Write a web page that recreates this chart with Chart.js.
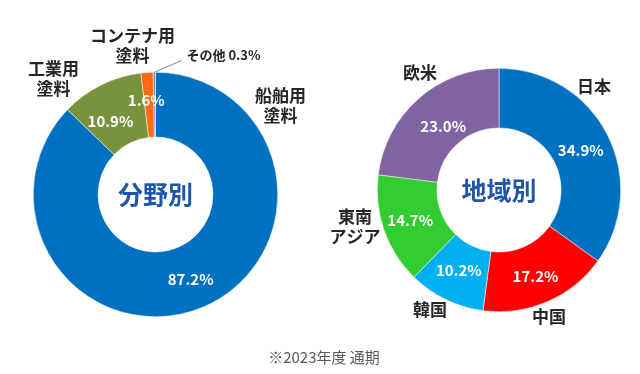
<!DOCTYPE html>
<html lang="ja">
<head>
<meta charset="utf-8">
<script src="https://cdn.jsdelivr.net/npm/chart.js@4/dist/chart.umd.min.js"></script>
<style>
  html, body { margin: 0; padding: 0; background: #fff; }
  #wrap { position: relative; width: 640px; height: 374px; overflow: hidden; }
  .cv { position: absolute; top: 0; width: 320px; height: 374px; }
  #note {
    position: absolute; left: 0; width: 648px; top: 346px; text-align: center;
    font: 15px "Noto Sans CJK JP", "Noto Sans", sans-serif; color: #595959;
  }
</style>
</head>
<body>
<div id="wrap">
  <div class="cv" style="left:0"><canvas id="fieldChart" width="320" height="374"></canvas></div>
  <div class="cv" style="left:320px"><canvas id="regionChart" width="320" height="374"></canvas></div>
  <div id="note">※2023年度 通期</div>
</div>
<script>
  // ---------- Data ----------
  const fieldLabels = [["船舶用", "塗料"], ["工業用", "塗料"], ["コンテナ用", "塗料"], ["その他 0.3%"]];
  const fieldValues = [87.2, 10.9, 1.6, 0.3];
  const fieldColors = ["#0070C0", "#77933C", "#FF6A13", "#8A7CC4"];

  const regionLabels = [["日本"], ["中国"], ["韓国"], ["東南", "アジア"], ["欧米"]];
  const regionValues = [34.9, 17.2, 10.2, 14.7, 23.0];
  const regionColors = ["#0070C0", "#FF0000", "#00B0F0", "#33CC33", "#8064A2"];

  const JP = '"Noto Sans CJK JP", "Noto Sans", sans-serif';

  // ---------- Labels plugin ----------
  // cfg.title : centre text, cfg.labelPos : [dx, dy] of each outside label from centre
  // cfg.pctShift : small nudges of the inside % labels
  const donutLabels = {
    id: "donutLabels",
    afterDraw(chart, args, cfg) {
      const { ctx } = chart;
      const meta = chart.getDatasetMeta(0);
      const ds = chart.data.datasets[0];
      const cx = meta.data[0].x, cy = meta.data[0].y;
      ctx.save();
      ctx.textAlign = "center";
      ctx.textBaseline = "middle";

      // centre title
      ctx.fillStyle = "#1F56A8";
      ctx.font = "bold 25px " + JP;
      ctx.fillText(cfg.title, cx, cy);

      meta.data.forEach((arc, i) => {
        // percent inside the ring
        if (!cfg.skipPct || !cfg.skipPct.includes(i)) {
          const p = arc.tooltipPosition();
          const sh = (cfg.pctShift && cfg.pctShift[i]) || [0, 0];
          ctx.fillStyle = "#fff";
          ctx.font = "bold 15px " + JP;
          ctx.fillText(ds.data[i].toFixed(1) + "%", p.x + sh[0], p.y + sh[1]);
        }
        // category label outside
        const pos = cfg.labelPos[i];
        const lines = chart.data.labels[i];
        const small = cfg.small && cfg.small.includes(i);
        ctx.fillStyle = "#262626";
        ctx.font = (small ? "bold 13px " : "bold 17px ") + JP;
        lines.forEach((t, k) => ctx.fillText(t, cx + pos[0], cy + pos[1] + k * 20));

        // leader line for tiny slice
        if (cfg.leader && cfg.leader.index === i) {
          const mid = (arc.startAngle + arc.endAngle) / 2;
          ctx.strokeStyle = "#808080";
          ctx.lineWidth = 1;
          ctx.beginPath();
          ctx.moveTo(cx + Math.cos(mid) * arc.outerRadius, cy + Math.sin(mid) * arc.outerRadius);
          ctx.lineTo(cx + cfg.leader.to[0], cy + cfg.leader.to[1]);
          ctx.stroke();
        }
      });
      ctx.restore();
    },
  };

  function makeDonut(id, labels, values, colors, cutout, padding, labelCfg) {
    return new Chart(document.getElementById(id), {
      type: "doughnut",
      data: {
        labels,
        datasets: [{
          data: values,
          backgroundColor: colors,
          borderColor: "#ffffff",
          borderWidth: 0.5,
        }],
      },
      options: {
        responsive: false,
        animation: false,
        cutout,
        layout: { padding },
        plugins: {
          legend: { display: false },
          tooltip: { enabled: false },
          donutLabels: labelCfg,
        },
      },
      plugins: [donutLabels],
    });
  }

  makeDonut("fieldChart", fieldLabels, fieldValues, fieldColors, "47%",
    { left: 33, right: 42, top: 72, bottom: 57 },
    {
      title: "分野別",
      labelPos: [[125, -99], [-102, -126], [-23, -159], [68, -139]],
      pctShift: [[0, 2], [-5, 7], [-3, -5]],
      skipPct: [3],
      small: [3],
      leader: { index: 3, to: [26, -134] },
    });

  makeDonut("regionChart", regionLabels, regionValues, regionColors, "51%",
    { left: 57, right: 19, top: 68, bottom: 62 },
    {
      title: "地域別",
      labelPos: [[95, -103], [50, 127], [-69, 120], [-144, 27], [-79, -117]],
      pctShift: [[0, 2], [0, 2], [0, -2], [-2, 0], [5, 5]],
    });
</script>
</body>
</html>
